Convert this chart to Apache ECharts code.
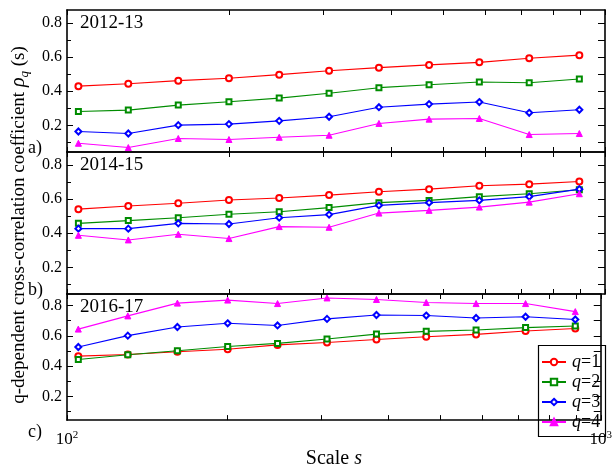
<!DOCTYPE html>
<html><head><meta charset="utf-8">
<script src="https://cdn.jsdelivr.net/npm/echarts@6/dist/echarts.min.js"></script>
<style>html,body{margin:0;padding:0;background:#fff}#c{width:615px;height:470px}</style>
</head><body><div id="c"></div>
<script>
// ---- data ----
const scales = [105, 130, 161, 200, 248, 307, 380, 471, 584, 723, 896];
const panelLabels = ['2012-13', '2014-15', '2016-17'];
const panelTags = ['a)', 'b)', 'c)'];
const seriesNames = ['q=1', 'q=2', 'q=3', 'q=4'];

const a_q1 = [0.430, 0.444, 0.462, 0.476, 0.497, 0.520, 0.538, 0.554, 0.569, 0.593, 0.611];
const a_q2 = [0.282, 0.290, 0.319, 0.339, 0.360, 0.388, 0.421, 0.438, 0.454, 0.450, 0.472];
const a_q3 = [0.165, 0.153, 0.202, 0.208, 0.227, 0.251, 0.307, 0.325, 0.337, 0.274, 0.292];
const a_q4 = [0.096, 0.071, 0.124, 0.118, 0.131, 0.143, 0.212, 0.237, 0.241, 0.147, 0.153];

const b_q1 = [0.541, 0.559, 0.575, 0.594, 0.606, 0.623, 0.643, 0.658, 0.678, 0.687, 0.703];
const b_q2 = [0.458, 0.474, 0.491, 0.511, 0.526, 0.550, 0.579, 0.592, 0.614, 0.631, 0.654];
const b_q3 = [0.427, 0.427, 0.458, 0.454, 0.491, 0.509, 0.563, 0.579, 0.592, 0.614, 0.658];
const b_q4 = [0.388, 0.361, 0.394, 0.369, 0.439, 0.435, 0.518, 0.534, 0.553, 0.582, 0.631];

const c_q1 = [0.466, 0.477, 0.495, 0.511, 0.540, 0.556, 0.576, 0.594, 0.609, 0.631, 0.648];
const c_q2 = [0.444, 0.475, 0.501, 0.529, 0.550, 0.579, 0.611, 0.629, 0.638, 0.654, 0.664];
const c_q3 = [0.526, 0.601, 0.658, 0.682, 0.668, 0.711, 0.737, 0.733, 0.717, 0.725, 0.707];
const c_q4 = [0.644, 0.731, 0.815, 0.835, 0.812, 0.849, 0.839, 0.819, 0.812, 0.812, 0.759];

const yMajorTicks = [0.2, 0.4, 0.6, 0.8];
const yMinorTicks = [0.1, 0.3, 0.5, 0.7];
const yAllTicks = [0.1, 0.2, 0.3, 0.4, 0.5, 0.6, 0.7, 0.8];
const xTicks = [100, 200, 300, 400, 500, 600, 700, 800, 900, 1000];
const xLabelValues = [100, 1000];

const panels = [[a_q1, a_q2, a_q3, a_q4], [b_q1, b_q2, b_q3, b_q4], [c_q1, c_q2, c_q3, c_q4]];

// ---- style ----
const FONT = 'Liberation Serif';
const colors = ['#ff0000', '#008c00', '#0000ff', '#ff00ff'];
const symbols = ['emptyCircle', 'emptyRect', 'emptyDiamond', 'triangle'];
const symbolSizes = [6, 5, 6, 6];
const gridTops = [10, 152, 294];
const gridH = 142;
const axLine = { show: true, lineStyle: { color: '#000', width: 1.6 } };

const grid = [], xAxis = [], yAxis = [], series = [], title = [];
gridTops.forEach((top, g) => {
  grid.push({ left: 67, right: 10, top: top, height: gridH, containLabel: false });
  const xBase = {
    type: 'log', logBase: 10, min: 100, max: 1000, gridIndex: g,
    axisLine: axLine, splitLine: { show: false }, minorTick: { show: false },
    axisTick: { show: true, inside: true, length: 5, customValues: xTicks, lineStyle: { color: '#000', width: 1 } }
  };
  xAxis.push(Object.assign({}, xBase, {
    position: 'bottom',
    axisLabel: {
      show: g === 2, customValues: xLabelValues, margin: 10,
      formatter: v => '{b|10}{p|' + Math.round(Math.log10(v)) + '}',
      rich: {
        b: { fontFamily: FONT, fontSize: 17, color: '#000' },
        p: { fontFamily: FONT, fontSize: 11, color: '#000', verticalAlign: 'top', padding: [0, 0, 8, 0] }
      }
    },
    name: g === 2 ? '{n|Scale }{i|s}' : '',
    nameLocation: 'middle', nameGap: 24,
    nameTextStyle: {
      rich: {
        n: { fontFamily: FONT, fontSize: 20, color: '#000' },
        i: { fontFamily: FONT, fontSize: 20, color: '#000', fontStyle: 'italic' }
      }
    }
  }));
  xAxis.push(Object.assign({}, xBase, { position: 'top', axisLabel: { show: false } }));

  const yBase = {
    type: 'value', min: 0.045, max: 0.875, gridIndex: g,
    splitLine: { show: false }, minorTick: { show: false }
  };
  yAxis.push(Object.assign({}, yBase, {
    position: 'left', axisLine: axLine,
    axisTick: { show: true, inside: true, length: 6, customValues: yMajorTicks, lineStyle: { color: '#000', width: 1 } },
    axisLabel: { show: true, customValues: yMajorTicks, margin: 5, formatter: v => v.toFixed(1),
      fontFamily: FONT, fontSize: 16, color: '#000' }
  }));
  yAxis.push(Object.assign({}, yBase, {
    position: 'left', axisLine: { show: false },
    axisTick: { show: true, inside: true, length: 4, customValues: yMinorTicks, lineStyle: { color: '#000', width: 1 } },
    axisLabel: { show: false }
  }));
  yAxis.push(Object.assign({}, yBase, {
    position: 'right', axisLine: axLine,
    axisTick: { show: true, inside: true, length: 7, customValues: yAllTicks, lineStyle: { color: '#000', width: 1 } },
    axisLabel: { show: false }
  }));

  panels[g].forEach((vals, k) => {
    series.push({
      type: 'line', name: seriesNames[k],
      xAxisIndex: g * 2, yAxisIndex: g * 3,
      data: scales.map((s, i) => [s, vals[i]]),
      symbol: symbols[k], symbolSize: symbolSizes[k],
      lineStyle: { color: colors[k], width: 1.1 },
      itemStyle: { color: colors[k], borderColor: colors[k], borderWidth: 1 },
      emphasis: { disabled: true },
      animation: false, z: 2 + k
    });
  });

  title.push({ text: panelLabels[g], left: 80, top: top + 4, padding: 0,
    textStyle: { fontFamily: FONT, fontSize: 19, fontWeight: 'normal', color: '#000' } });
  title.push({ text: panelTags[g], left: 28, top: top + gridH - 13, padding: 0,
    textStyle: { fontFamily: FONT, fontSize: 18, fontWeight: 'normal', color: '#000' } });
});

const option = {
  animation: false,
  backgroundColor: '#fff',
  grid, xAxis, yAxis, series, title,
  legend: {
    data: seriesNames, orient: 'vertical', left: 538, top: 345,
    backgroundColor: 'transparent', borderWidth: 0,
    padding: [8, 4, 4, 3], itemGap: 2, itemWidth: 24, itemHeight: 8,
    selectedMode: false, z: 10,
    formatter: n => '{i|q}{n|' + n.slice(1) + '}',
    textStyle: {
      padding: [0, 0, 0, 1], lineHeight: 17,
      rich: {
        i: { fontFamily: FONT, fontSize: 18, fontStyle: 'italic', color: '#000', lineHeight: 17 },
        n: { fontFamily: FONT, fontSize: 18, color: '#000', lineHeight: 17 }
      }
    }
  },
  graphic: [{
    type: 'rect', z: 9,
    shape: { x: 538.5, y: 345.5, width: 67, height: 91 },
    style: { fill: 'none', stroke: '#000', lineWidth: 1.2 },
    silent: true
  }, {
    type: 'text', x: 19, y: 225, rotation: Math.PI / 2,
    style: {
      text: '{a|q-dependent cross-correlation coefficient }{r|ρ}{s|q}{a| (s)}',
      textAlign: 'center', textVerticalAlign: 'middle', align: 'center', verticalAlign: 'middle',
      rich: {
        a: { fontFamily: FONT, fontSize: 19, fill: '#000', color: '#000', lineHeight: 24, verticalAlign: 'middle' },
        r: { fontFamily: FONT, fontSize: 20, fill: '#000', color: '#000', fontStyle: 'italic', lineHeight: 24, verticalAlign: 'middle' },
        s: { fontFamily: FONT, fontSize: 13, fill: '#000', color: '#000', fontStyle: 'italic', lineHeight: 24, verticalAlign: 'bottom', padding: [8, 0, 0, 0] }
      }
    }
  }]
};

const chart = echarts.init(document.getElementById('c'), null, { renderer: 'canvas' });
chart.setOption(option);
</script>
</body></html>
